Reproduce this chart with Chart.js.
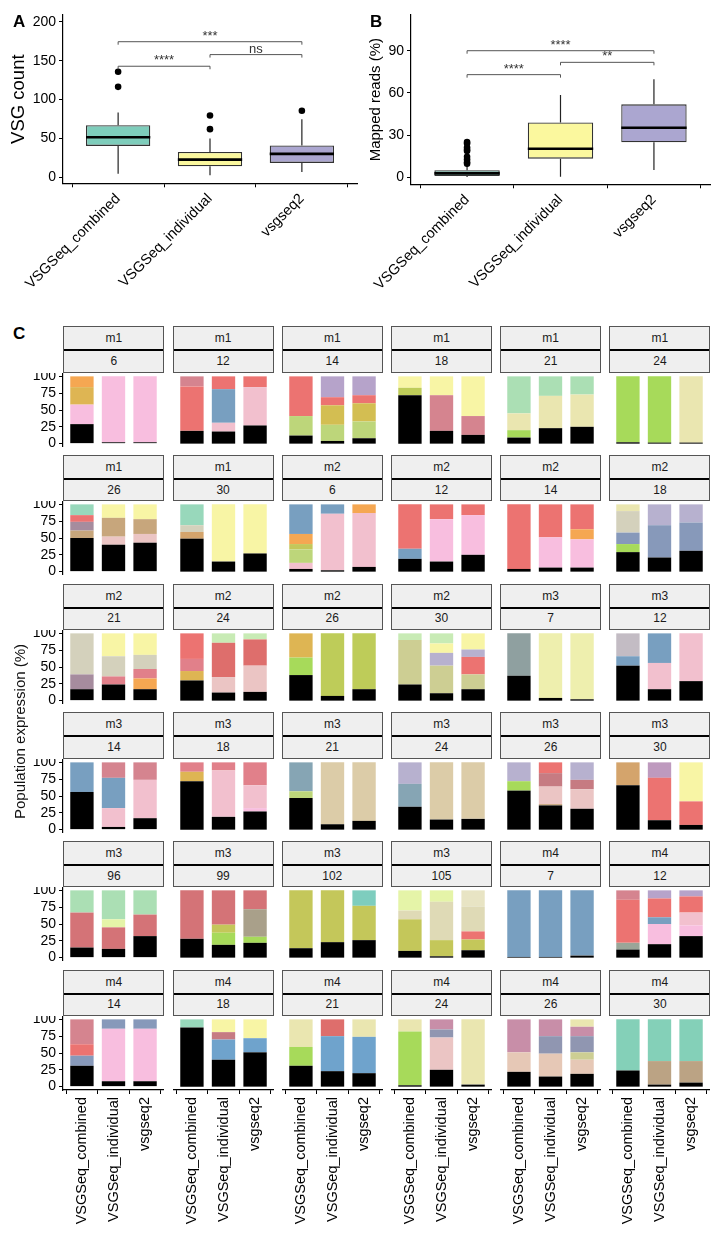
<!DOCTYPE html>
<html>
<head>
<meta charset="utf-8">
<script src="https://cdn.jsdelivr.net/npm/chart.js@4.4.1/dist/chart.umd.min.js"></script>
<style>
  body { margin: 0; background: #fff; font-family: "Liberation Sans", Arial, sans-serif; }
  #page { position: relative; width: 724px; height: 1240px; overflow: hidden; }
  canvas { position: absolute; }
  .lab { position: absolute; font-weight: bold; font-size: 17px; color: #000; }
  .strip { position: absolute; box-sizing: border-box; border: 1px solid #555; background: #efefef; }
  .strip div { position: absolute; left: 0; right: 0; display: flex; align-items: center; justify-content: center; font-size: 12px; color: #1a1a1a; }
  .strip .sep { height: 0; border-top: 2px solid #000; }
  #ctitle { position: absolute; left: 11px; top: 640px; height: 182px; font-size: 15px; line-height: 17px; color: #111;
            white-space: nowrap; writing-mode: vertical-rl; transform: rotate(180deg); text-align: center; z-index: 5; }
</style>
</head>
<body>
<div id="page">
  <canvas id="chartA" width="362" height="300" style="left:0;top:0"></canvas>
  <canvas id="chartB" width="362" height="300" style="left:362px;top:0"></canvas>
</div>
<script>
// categories
const methods = ['VSGSeq_combined', 'VSGSeq_individual', 'vsgseq2'];
const boxFill = ['#7ecdbb', '#fbf89e', '#aba6d0'];

// panel A: VSG count boxplots
const countQ1 = [40.4, 14.2, 18.5];
const countMed = [51.6, 22.8, 30.1];
const countQ3 = [67, 32.7, 40.9];
const countLo = [4.7, 2.6, 6.9];
const countHi = [83.5, 49.9, 74.8];
const countOut = [[136, 116.5], [79.6, 62], [85.6]];
const countTicks = [0, 50, 100, 150, 200];
const countBrackets = [[0, 1, 143, '****'], [1, 2, 158, 'ns'], [0, 2, 174.6, '***']];

// panel B: mapped reads boxplots
const readsQ1 = [0.7, 13.1, 24.8];
const readsMed = [2.6, 20.2, 35.2];
const readsQ3 = [4.8, 39, 51.9];
const readsLo = [0, 0.2, 5];
const readsHi = [8, 58.6, 69.8];
const readsOut = [[25, 24, 21, 19.5, 18.5, 14.5, 12.5, 10.5, 9.5], [], []];
const readsTicks = [0, 30, 60, 90];
const readsBrackets = [[0, 1, 73.1, '****'], [1, 2, 81.9, '**'], [0, 2, 90.2, '****']];

// panel C: facets (mouse, day)
const facetMouse = ['m1','m1','m1','m1','m1','m1','m1','m1','m2','m2','m2','m2','m2','m2','m2','m2',
  'm3','m3','m3','m3','m3','m3','m3','m3','m3','m3','m3','m3','m4','m4','m4','m4','m4','m4','m4','m4'];
const facetDay = [6,12,14,18,21,24,26,30, 6,12,14,18,21,24,26,30,
  7,12,14,18,21,24,26,30,96,99,102,105, 7,12,14,18,21,24,26,30];
const expTicks = [0, 25, 50, 75, 100];

// stacked expression: [cumulative top %, VSG key] from bottom
const combinedBars = [
  [[29,'k'],[58,'pk'],[84,'mu'],[100,'or']],
  [[19,'k'],[85,'sa'],[100,'ro']],
  [[12,'k'],[41,'lg'],[100,'sa']],
  [[72,'k'],[83,'yg'],[100,'ye']],
  [[9,'k'],[20,'li'],[45,'cr'],[100,'mi']],
  [[2,'k'],[100,'li']],
  [[50,'k'],[61,'tn'],[74,'mv'],[84,'sa'],[100,'tm']],
  [[49,'k'],[59,'to'],[69,'bg'],[100,'tm']],
  [[4,'k'],[13,'lp'],[33,'lg'],[41,'oy'],[56,'or'],[100,'bl']],
  [[19,'k'],[34,'bl'],[100,'sa']],
  [[4,'k'],[100,'sa']],
  [[29,'k'],[41,'li'],[58,'sb'],[90,'bg'],[100,'cr']],
  [[17,'k'],[39,'mv'],[100,'bg']],
  [[30,'k'],[44,'mu'],[62,'sr'],[100,'sa']],
  [[38,'k'],[64,'li'],[100,'mu']],
  [[24,'k'],[90,'kh'],[100,'ml']],
  [[37,'k'],[100,'gt']],
  [[52,'k'],[66,'bl'],[100,'gm']],
  [[56,'k'],[100,'bl']],
  [[72,'k'],[86,'mu'],[100,'sr']],
  [[47,'k'],[57,'lg'],[100,'gb']],
  [[34,'k'],[68,'gb'],[100,'la']],
  [[58,'k'],[72,'li'],[100,'la']],
  [[66,'k'],[100,'to']],
  [[15,'k'],[67,'rs'],[100,'mi']],
  [[28,'k'],[100,'rs']],
  [[14,'k'],[100,'oy']],
  [[10,'k'],[57,'oy'],[70,'be'],[100,'ly']],
  [[1,'k'],[100,'bl']],
  [[12,'k'],[22,'gg'],[86,'sa'],[100,'ro']],
  [[31,'k'],[46,'sb'],[63,'sa'],[100,'ro']],
  [[88,'k'],[100,'tm']],
  [[31,'k'],[59,'li'],[100,'cr']],
  [[2,'k'],[82,'li'],[100,'cr']],
  [[22,'k'],[51,'pc'],[100,'mr']],
  [[24,'k'],[100,'tt']]
];
const individualBars = [
  [[2,'k'],[100,'pk']],
  [[18,'k'],[31,'lp'],[81,'bl'],[100,'sa']],
  [[4,'k'],[28,'lg'],[57,'ol'],[69,'sa'],[100,'lv']],
  [[19,'k'],[72,'ro'],[100,'ye']],
  [[23,'k'],[71,'cr'],[100,'mi']],
  [[1.5,'k'],[100,'li']],
  [[40,'k'],[52,'pe'],[80,'tn'],[100,'ye']],
  [[15,'k'],[100,'ye']],
  [[2,'k'],[86,'lp'],[100,'bl']],
  [[15,'k'],[78,'pk'],[100,'sa']],
  [[6,'k'],[51,'pk'],[100,'sa']],
  [[21,'k'],[69,'sb'],[100,'la']],
  [[24,'k'],[36,'sr'],[66,'bg'],[100,'ye']],
  [[12,'k'],[35,'pe'],[86,'rd'],[100,'ml']],
  [[7,'k'],[100,'yg']],
  [[11,'k'],[52,'kh'],[71,'la'],[85,'ye'],[100,'ml']],
  [[4,'k'],[100,'py']],
  [[17,'k'],[56,'lp'],[100,'bl']],
  [[4,'k'],[32,'lp'],[77,'bl'],[100,'ro']],
  [[19,'k'],[88,'lp'],[100,'sr']],
  [[8,'k'],[100,'tb']],
  [[15,'k'],[100,'tb']],
  [[36,'k'],[38,'tn'],[64,'pe'],[84,'br'],[100,'sa']],
  [[14,'k'],[77,'sa'],[100,'mg']],
  [[13,'k'],[45,'rs'],[57,'ly'],[100,'mi']],
  [[19,'k'],[37,'li'],[49,'oy'],[100,'rs']],
  [[23,'k'],[100,'oy']],
  [[2,'k'],[26,'oy'],[83,'be'],[100,'ly']],
  [[1,'k'],[100,'bl']],
  [[20,'k'],[50,'pk'],[60,'bl'],[88,'sa'],[100,'lv']],
  [[8,'k'],[86,'pk'],[100,'sb']],
  [[40,'k'],[70,'bm'],[81,'br'],[100,'ye']],
  [[23,'k'],[75,'bm'],[100,'rd']],
  [[25,'k'],[73,'pe'],[85,'gp'],[100,'mr']],
  [[15,'k'],[49,'pc'],[75,'gp'],[100,'mr']],
  [[3,'k'],[38,'bb'],[100,'tt']]
];
const vsgseq2Bars = [
  [[2,'k'],[100,'pk']],
  [[27,'k'],[84,'lp'],[100,'sa']],
  [[8,'k'],[33,'lg'],[60,'ol'],[72,'sa'],[100,'lv']],
  [[13,'k'],[41,'ro'],[100,'ye']],
  [[25,'k'],[73,'cr'],[100,'mi']],
  [[1.5,'k'],[100,'cr']],
  [[43,'k'],[56,'pe'],[78,'tn'],[100,'ye']],
  [[27,'k'],[100,'ye']],
  [[7,'k'],[87,'lp'],[100,'or']],
  [[25,'k'],[84,'pk'],[100,'sa']],
  [[6,'k'],[48,'pk'],[63,'or'],[100,'sa']],
  [[31,'k'],[73,'sb'],[100,'la']],
  [[17,'k'],[33,'or'],[47,'sr'],[68,'bg'],[100,'ye']],
  [[13,'k'],[52,'pe'],[91,'rd'],[100,'ml']],
  [[17,'k'],[100,'yg']],
  [[17,'k'],[39,'kh'],[65,'sa'],[76,'la'],[100,'ye']],
  [[2,'k'],[100,'py']],
  [[29,'k'],[100,'lp']],
  [[17,'k'],[74,'lp'],[100,'ro']],
  [[27,'k'],[32,'pk'],[66,'lp'],[100,'sr']],
  [[13,'k'],[100,'tb']],
  [[16,'k'],[100,'tb']],
  [[31,'k'],[60,'pe'],[74,'br'],[100,'la']],
  [[7,'k'],[42,'sa'],[100,'ye']],
  [[32,'k'],[64,'rs'],[100,'mi']],
  [[22,'k'],[31,'li'],[72,'tp'],[100,'rs']],
  [[26,'k'],[77,'oy'],[100,'te']],
  [[11,'k'],[27,'oy'],[39,'sa'],[76,'be'],[100,'lb']],
  [[3,'k'],[100,'bl']],
  [[32,'k'],[48,'pk'],[67,'lp'],[91,'sa'],[100,'lv']],
  [[8,'k'],[86,'pk'],[100,'sb']],
  [[51,'k'],[72,'bm'],[100,'ye']],
  [[20,'k'],[74,'bm'],[100,'cr']],
  [[3,'k'],[100,'cr']],
  [[19,'k'],[40,'pc'],[51,'kh'],[75,'gp'],[89,'mr'],[100,'cr']],
  [[6,'k'],[38,'bb'],[100,'tt']]
];

const vsgColour = {
  k:'#000000', pk:'#f8bedf', lp:'#f2c0ce', sa:'#ec7371', ro:'#d5848f', sr:'#e1808a', rd:'#de6e6c',
  rs:'#d47377', or:'#f5a752', mu:'#deb553', ol:'#d3be52', bl:'#789fc0', sb:'#8799ba', bm:'#6fa3cc',
  lv:'#b6a3ca', la:'#b7b1cf', lg:'#bdd67a', yg:'#becc59', oy:'#c4c75a', li:'#a7da5a', ye:'#f8f5a5',
  py:'#eeefae', cr:'#eae6b0', mi:'#abdfb4', ml:'#c8ebb5', tm:'#98d8bb', tt:'#84d0b8', te:'#7ecdbe',
  tn:'#c7a67c', to:'#d4a46c', bb:'#bba384', tb:'#dccca8', bg:'#d4d1bc', be:'#dfdab6', lb:'#e8e4c4',
  kh:'#cdce93', ly:'#e5f4a8', pe:'#ebc5c4', pc:'#e6c8b6', mv:'#a68c9e', mg:'#be9abe', mr:'#c88ea8',
  br:'#c67b82', gp:'#9096b1', gm:'#c3bcc4', gt:'#8fa0a0', gb:'#86a5b4', gg:'#9aa598', tp:'#a9a08a'
};

const FONT = '"Liberation Sans", Arial, sans-serif';
Chart.defaults.font.family = FONT;
Chart.defaults.color = '#000';
Chart.defaults.animation = false;

const axisGrid = { display: true, drawOnChartArea: false, drawTicks: true, tickLength: 4, color: '#000', lineWidth: 1 };
const axisBorder = { display: true, color: '#000', width: 1.2 };

function bracketPlugin(list) {
  return {
    id: 'brackets',
    afterDatasetsDraw(chart) {
      const { ctx, scales: { x, y } } = chart;
      ctx.save();
      list.forEach(([a, b, v, txt]) => {
        const x1 = x.getPixelForValue(a + 1), x2 = x.getPixelForValue(b + 1), yy = y.getPixelForValue(v);
        ctx.strokeStyle = '#555';
        ctx.lineWidth = 1;
        ctx.beginPath();
        ctx.moveTo(x1, yy + 3); ctx.lineTo(x1, yy); ctx.lineTo(x2, yy); ctx.lineTo(x2, yy + 3);
        ctx.stroke();
        ctx.fillStyle = '#333';
        ctx.font = '13px ' + FONT;
        ctx.textAlign = 'center';
        ctx.textBaseline = 'alphabetic';
        ctx.fillText(txt, (x1 + x2) / 2, yy - 2);
      });
      ctx.restore();
    }
  };
}

function boxPanel(id, p) {
  const whisk = [], med = [];
  methods.forEach((m, i) => {
    whisk.push({ x: i + 1, y: p.q3[i] }, { x: i + 1, y: p.hi[i] }, { x: i + 1, y: null },
               { x: i + 1, y: p.lo[i] }, { x: i + 1, y: p.q1[i] }, { x: i + 1, y: null });
    med.push({ x: i + 0.65, y: p.med[i] }, { x: i + 1.35, y: p.med[i] }, { x: i + 1, y: null });
  });
  const outs = [];
  p.out.forEach((arr, i) => arr.forEach(v => outs.push({ x: i + 1, y: v })));
  new Chart(document.getElementById(id), {
    type: 'bar',
    data: {
      datasets: [
        { type: 'line', data: whisk, borderColor: '#222', borderWidth: 1.2, pointRadius: 0, spanGaps: false, order: 3 },
        { data: methods.map((m, i) => ({ x: i + 1, y: [p.q1[i], p.q3[i]] })), backgroundColor: boxFill,
          borderColor: '#333', borderWidth: 1.3, borderSkipped: false, barPercentage: 0.7, categoryPercentage: 1, order: 2 },
        { type: 'line', data: med, borderColor: '#000', borderWidth: 2.6, pointRadius: 0, spanGaps: false, order: 1 },
        { type: 'scatter', data: outs, backgroundColor: '#000', borderWidth: 0, pointRadius: 3.3, order: 0 }
      ]
    },
    options: {
      responsive: false,
      layout: { padding: { top: 15, right: p.right, left: 0, bottom: 0 } },
      plugins: { legend: { display: false }, tooltip: { enabled: false } },
      scales: {
        x: {
          type: 'linear', min: 0.4, max: 3.6, offset: false,
          afterBuildTicks: s => { s.ticks = [1, 2, 3].map(v => ({ value: v })); },
          afterFit: s => { s.height = p.xh; s.paddingLeft = 0; s.paddingRight = 0; },
          ticks: { autoSkip: false, minRotation: 45, maxRotation: 45, padding: 3, color: '#000',
                   font: { size: 14.5 }, callback: v => methods[v - 1] },
          grid: axisGrid, border: axisBorder
        },
        y: {
          min: p.min, max: p.max,
          afterBuildTicks: s => { s.ticks = p.ticks.map(v => ({ value: v })); },
          afterFit: s => { s.width = p.yw; s.paddingTop = 0; s.paddingBottom = 0; },
          ticks: { autoSkip: false, color: '#000', font: { size: 14 }, padding: 3 },
          grid: axisGrid, border: axisBorder,
          title: { display: true, text: p.title, color: '#000', font: { size: p.tsize }, padding: { top: p.tpad, bottom: 0 } }
        }
      }
    },
    plugins: [bracketPlugin(p.brackets)]
  });
}

boxPanel('chartA', { q1: countQ1, med: countMed, q3: countQ3, lo: countLo, hi: countHi, out: countOut,
  ticks: countTicks, brackets: countBrackets, min: -7.74, max: 209, yw: 63, xh: 116.7, right: 5,
  title: 'VSG count', tsize: 18.5, tpad: 8 });
boxPanel('chartB', { q1: readsQ1, med: readsMed, q3: readsQ3, lo: readsLo, hi: readsHi, out: readsOut,
  ticks: readsTicks, brackets: readsBrackets, min: -5.2, max: 115.7, yw: 49, xh: 115.7, right: 14,
  title: 'Mapped reads (%)', tsize: 15, tpad: 5 });

// facet grid layout
const page = document.getElementById('page');
const colX = [63.3, 172.5, 281.7, 390.9, 500.1, 609.3];
const panelW = 101.2, unit = 0.673, yAxisW = 48, xAxisH = 150;

function facet(idx) {
  const row = Math.floor(idx / 6), col = idx % 6;
  const zero = 443.3 + 128.7 * row;
  const top = zero - 105 * unit, plotH = 110 * unit;
  const first = col === 0, bottom = row === 5;

  const strip = document.createElement('div');
  strip.className = 'strip';
  strip.style.cssText = `left:${colX[col]}px;top:${top - 46.4}px;width:${panelW}px;height:46.4px`;
  strip.innerHTML = `<div style="top:0;height:22px">${facetMouse[idx]}</div><div class="sep" style="top:22px"></div>` +
                    `<div style="top:23px;height:21.4px">${facetDay[idx]}</div>`;
  page.appendChild(strip);

  const cv = document.createElement('canvas');
  const left = colX[col] - (first ? yAxisW : 0);
  cv.width = Math.round(panelW + (first ? yAxisW : 0));
  cv.height = Math.round(plotH + (bottom ? xAxisH : 0));
  cv.style.left = left + 'px';
  cv.style.top = top + 'px';
  page.appendChild(cv);

  const bars = [combinedBars[idx], individualBars[idx], vsgseq2Bars[idx]];
  const n = Math.max(...bars.map(b => b.length));
  const datasets = [];
  for (let k = 0; k < n; k++) {
    datasets.push({
      data: bars.map((b, j) => ({ x: j + 1, y: b[k] ? [k ? b[k - 1][0] : 0, b[k][0]] : null })),
      backgroundColor: bars.map(b => b[k] ? vsgColour[b[k][1]] : 'rgba(0,0,0,0)'),
      borderWidth: 0, barPercentage: 0.74, categoryPercentage: 1
    });
  }
  new Chart(cv, {
    type: 'bar',
    data: { datasets },
    options: {
      responsive: false,
      layout: { padding: 0 },
      plugins: { legend: { display: false }, tooltip: { enabled: false } },
      scales: {
        x: {
          type: 'linear', min: 0.4, max: 3.6, offset: false, stacked: true, display: bottom,
          afterBuildTicks: s => { s.ticks = [1, 2, 3].map(v => ({ value: v })); },
          afterFit: s => { if (bottom) { s.height = xAxisH; } s.paddingLeft = 0; s.paddingRight = 0; },
          ticks: { autoSkip: false, minRotation: 90, maxRotation: 90, padding: 3, color: '#000',
                   font: { size: 14.5 }, callback: v => methods[v - 1] },
          grid: axisGrid, border: axisBorder
        },
        y: {
          min: -5, max: 105, display: first,
          afterBuildTicks: s => { s.ticks = expTicks.map(v => ({ value: v })); },
          afterFit: s => { if (first) { s.width = yAxisW; } s.paddingTop = 0; s.paddingBottom = 0; },
          ticks: { autoSkip: false, color: '#000', font: { size: 14 }, padding: 3 },
          grid: axisGrid, border: axisBorder
        }
      }
    }
  });
}
for (let i = 0; i < 36; i++) facet(i);

// panel letters and shared title
[['A', 13, 12], ['B', 370, 12], ['C', 13, 324]].forEach(([t, x, y]) => {
  const d = document.createElement('div');
  d.className = 'lab';
  d.textContent = t;
  d.style.left = x + 'px';
  d.style.top = y + 'px';
  page.appendChild(d);
});
const ct = document.createElement('div');
ct.id = 'ctitle';
ct.textContent = 'Population expression (%)';
page.appendChild(ct);
</script>
</body>
</html>
